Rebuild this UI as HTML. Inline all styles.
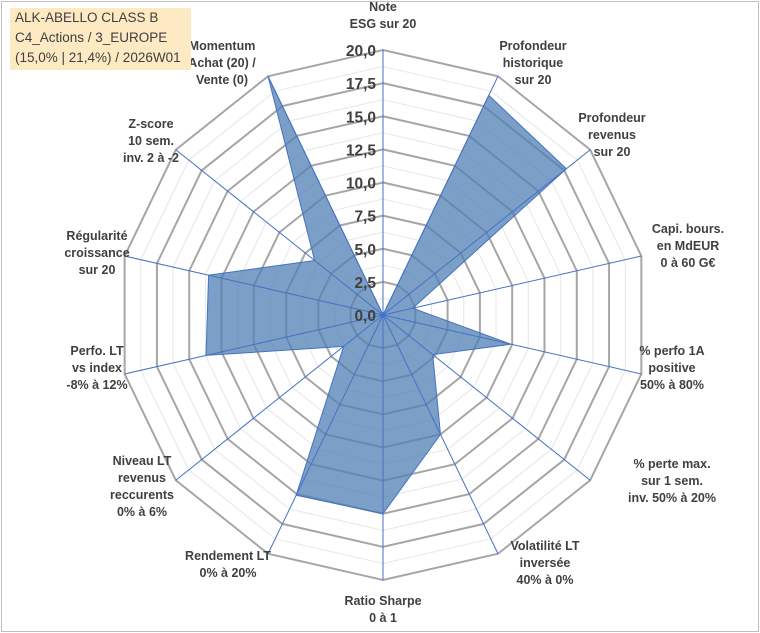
<!DOCTYPE html>
<html><head><meta charset="utf-8">
<style>
html,body{margin:0;padding:0;background:#fff;}
#wrap{position:relative;width:760px;height:633px;overflow:hidden;}
#frame{position:absolute;left:1px;top:1px;width:756px;height:629px;border:1px solid #bfbfbf;}
#title{position:absolute;left:10px;top:8px;width:181px;height:62px;background:#fde9c2;font-family:"Liberation Sans",sans-serif;font-size:13.5px;line-height:20px;color:#404040;padding-left:5px;box-sizing:border-box;white-space:nowrap;}
svg{position:absolute;left:0;top:0;}
text{font-family:"Liberation Sans",sans-serif;font-weight:bold;fill:#404040;}
</style></head>
<body>
<div id="wrap">
<div id="frame"></div>
<svg id="chart" width="760" height="633"></svg>
<div id="title">ALK-ABELLO CLASS B<br>C4_Actions / 3_EUROPE<br>(15,0% | 21,4%) / 2026W01</div>
</div>
<script>
const categories=[["Note","ESG sur 20"],["Profondeur","historique","sur 20"],["Profondeur","revenus","sur 20"],["Capi. bours.","en MdEUR","0 à 60 G€"],["% perfo 1A","positive","50% à 80%"],["% perte max.","sur 1 sem.","inv. 50% à 20%"],["Volatilité LT","inversée","40% à 0%"],["Ratio Sharpe","0 à 1"],["Rendement LT","0% à 20%"],["Niveau LT","revenus","reccurents","0% à 6%"],["Perfo. LT","vs index","-8% à 12%"],["Régularité","croissance","sur 20"],["Z-score","10 sem.","inv. 2 à -2"],["Momentum","Achat (20) /","Vente (0)"]];
const values=[0,18.4,17.7,2.3,9.9,4.8,10,15,15.1,3.8,13.7,13.5,6.6,20];
const ticks=["0,0","2,5","5,0","7,5","10,0","12,5","15,0","17,5","20,0"];
const tickValues=[0,2.5,5,7.5,10,12.5,15,17.5,20];
const labelPos=[[383,11],[533,50],[612,122],[688,233],[672,355],[672,468],[545,550],[383,605],[228,560],[142,465],[97,355],[97,240],[151,128],[222,50]];
const cx=383,cy=315,R=265,maxV=20,N=categories.length;
const svg=document.getElementById('chart');
const NS='http://www.w3.org/2000/svg';
function ang(i){return -Math.PI/2+i*2*Math.PI/N;}
function pt(i,v){const r=v/maxV*R;return [cx+r*Math.cos(ang(i)),cy+r*Math.sin(ang(i))];}
function mk(t,a){const e=document.createElementNS(NS,t);for(const k in a)e.setAttribute(k,a[k]);svg.appendChild(e);return e;}
// minor rings
for(let v=1.25;v<=maxV;v+=2.5){
 const p=[];for(let i=0;i<N;i++)p.push(pt(i,v).join(','));
 const g=mk('polygon',{points:p.join(' '),fill:'none',stroke:'#e6e6e6','stroke-width':1});
 
 
}
tickValues.forEach(v=>{
 if(v===0)return;
 const p=[];for(let i=0;i<N;i++)p.push(pt(i,v).join(','));
 const g=mk('polygon',{points:p.join(' '),fill:'none',stroke:'#a6a6a6','stroke-width':2});
 
 
});
// series
const sp=values.map((v,i)=>pt(i,v).join(','));
const s=mk('polygon',{points:sp.join(' '),fill:'#4f7fb4','fill-opacity':0.75,stroke:'#4472c4','stroke-width':1});


// spokes
for(let i=0;i<N;i++){
 const e=pt(i,maxV);
 const l=mk('line',{x1:cx,y1:cy,x2:e[0],y2:e[1],stroke:'#4472c4','stroke-width':1});
 
 
}
// tick labels
tickValues.forEach((v,k)=>{
 const t=mk('text',{x:cx-7,y:cy-v/maxV*R+6,'text-anchor':'end','font-size':15.5,fill:'#595959'});
 t.textContent=ticks[k];
 
 
});
// category labels
categories.forEach((lines,i)=>{
 const t=mk('text',{x:labelPos[i][0],y:labelPos[i][1],'text-anchor':'middle','font-size':12.5});
 
 
 lines.forEach((ln,j)=>{
  const ts=document.createElementNS(NS,'tspan');
  ts.setAttribute('x',labelPos[i][0]);ts.setAttribute('dy',j===0?0:17);
  ts.textContent=ln;t.appendChild(ts);
 });
});
</script>
</body></html>
